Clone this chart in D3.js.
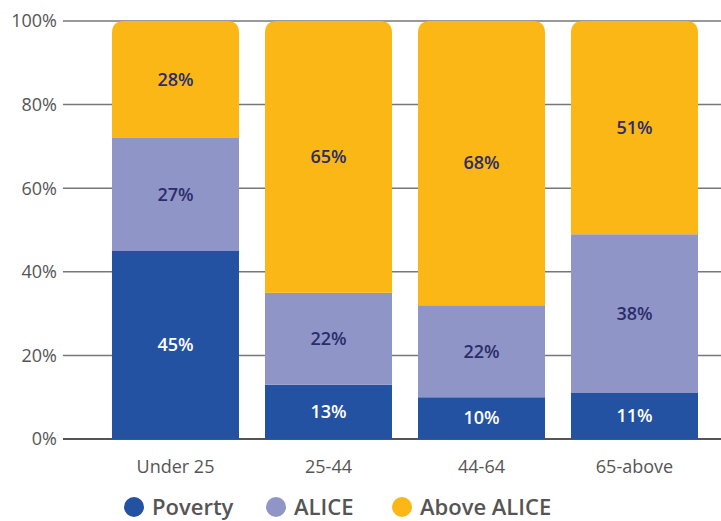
<!DOCTYPE html>
<html>
<head>
<meta charset="utf-8">
<script src="https://cdn.jsdelivr.net/npm/d3@7"></script>
<style>
  body { margin: 0; background: #fff; }
  svg { font-family: "Open Sans", sans-serif; }
</style>
</head>
<body>
<svg width="721" height="521"></svg>
<script>
var categories = ["Under 25", "25-44", "44-64", "65-above"];
var seriesNames = ["Poverty", "ALICE", "Above ALICE"];
var poverty = [45, 13, 10, 11];
var alice = [27, 22, 22, 38];
var aboveAlice = [28, 65, 68, 51];
var yTicks = [0, 20, 40, 60, 80, 100];

var colors = ["#2452a3", "#9095c8", "#fbb715"];
var labelColors = ["#ffffff", "#2b2d6b", "#2b2d6b"];

var svg = d3.select("svg");

var data = categories.map(function (c, i) {
    return {cat: c, Poverty: poverty[i], ALICE: alice[i], "Above ALICE": aboveAlice[i]};
});
var stacked = d3.stack().keys(seriesNames)(data);

var x = d3.scaleBand()
    .domain(categories)
    .range([99, 711])
    .paddingInner(0.17)
    .paddingOuter(0.085);

var y = d3.scaleLinear()
    .domain([0, 100])
    .range([439, 21]);

// gridlines + tick labels
var grid = svg.append("g");
grid.selectAll("line")
    .data(yTicks)
    .enter().append("line")
    .attr("x1", 63).attr("x2", 721)
    .attr("y1", function (d) { return y(d); })
    .attr("y2", function (d) { return y(d); })
    .attr("stroke", function (d) { return d === 0 ? "#555" : "#777"; })
    .attr("stroke-width", function (d) { return d === 0 ? 2 : 1.5; });
grid.selectAll("text")
    .data(yTicks)
    .enter().append("text")
    .attr("x", 57)
    .attr("y", function (d) { return y(d); })
    .attr("dy", "0.35em")
    .attr("text-anchor", "end")
    .attr("fill", "#555")
    .attr("font-size", 18)
    .text(function (d) { return d + "%"; });

// bars
var r = 12;
function roundTop(x0, y0, w, h) {
    return "M" + x0 + "," + (y0 + h) +
        "V" + (y0 + r) +
        "Q" + x0 + "," + y0 + " " + (x0 + r) + "," + y0 +
        "H" + (x0 + w - r) +
        "Q" + (x0 + w) + "," + y0 + " " + (x0 + w) + "," + (y0 + r) +
        "V" + (y0 + h) + "Z";
}

stacked.forEach(function (layer, li) {
    var g = svg.append("g");
    g.selectAll("path")
        .data(layer)
        .enter().append("path")
        .attr("fill", colors[li])
        .attr("d", function (d) {
            var x0 = x(d.data.cat), w = x.bandwidth();
            var y0 = y(d[1]), h = y(d[0]) - y(d[1]);
            if (li === stacked.length - 1) return roundTop(x0, y0, w, h);
            return "M" + x0 + "," + y0 + "h" + w + "v" + h + "h" + (-w) + "Z";
        });
    g.selectAll("text")
        .data(layer)
        .enter().append("text")
        .attr("x", function (d) { return x(d.data.cat) + x.bandwidth() / 2; })
        .attr("y", function (d) { return (y(d[0]) + y(d[1])) / 2; })
        .attr("dy", "0.35em")
        .attr("text-anchor", "middle")
        .attr("fill", labelColors[li])
        .attr("font-size", 18)
        .attr("font-weight", 600)
        .text(function (d) { return (d[1] - d[0]) + "%"; });
});

// x axis labels
svg.append("g").selectAll("text")
    .data(categories)
    .enter().append("text")
    .attr("x", function (d) { return x(d) + x.bandwidth() / 2; })
    .attr("y", 467)
    .attr("dy", "0.35em")
    .attr("text-anchor", "middle")
    .attr("fill", "#555")
    .attr("font-size", 18)
    .text(function (d) { return d; });

// legend
var legendX = [134, 276, 402];
var legend = svg.append("g").selectAll("g")
    .data(seriesNames)
    .enter().append("g")
    .attr("transform", function (d, i) { return "translate(" + legendX[i] + ",507)"; });
legend.append("circle")
    .attr("r", 10)
    .attr("fill", function (d, i) { return colors[i]; });
legend.append("text")
    .attr("x", 18)
    .attr("dy", "0.35em")
    .attr("fill", "#555")
    .attr("font-size", 22)
    .attr("font-weight", 600)
    .text(function (d) { return d; });
</script>
</body>
</html>
